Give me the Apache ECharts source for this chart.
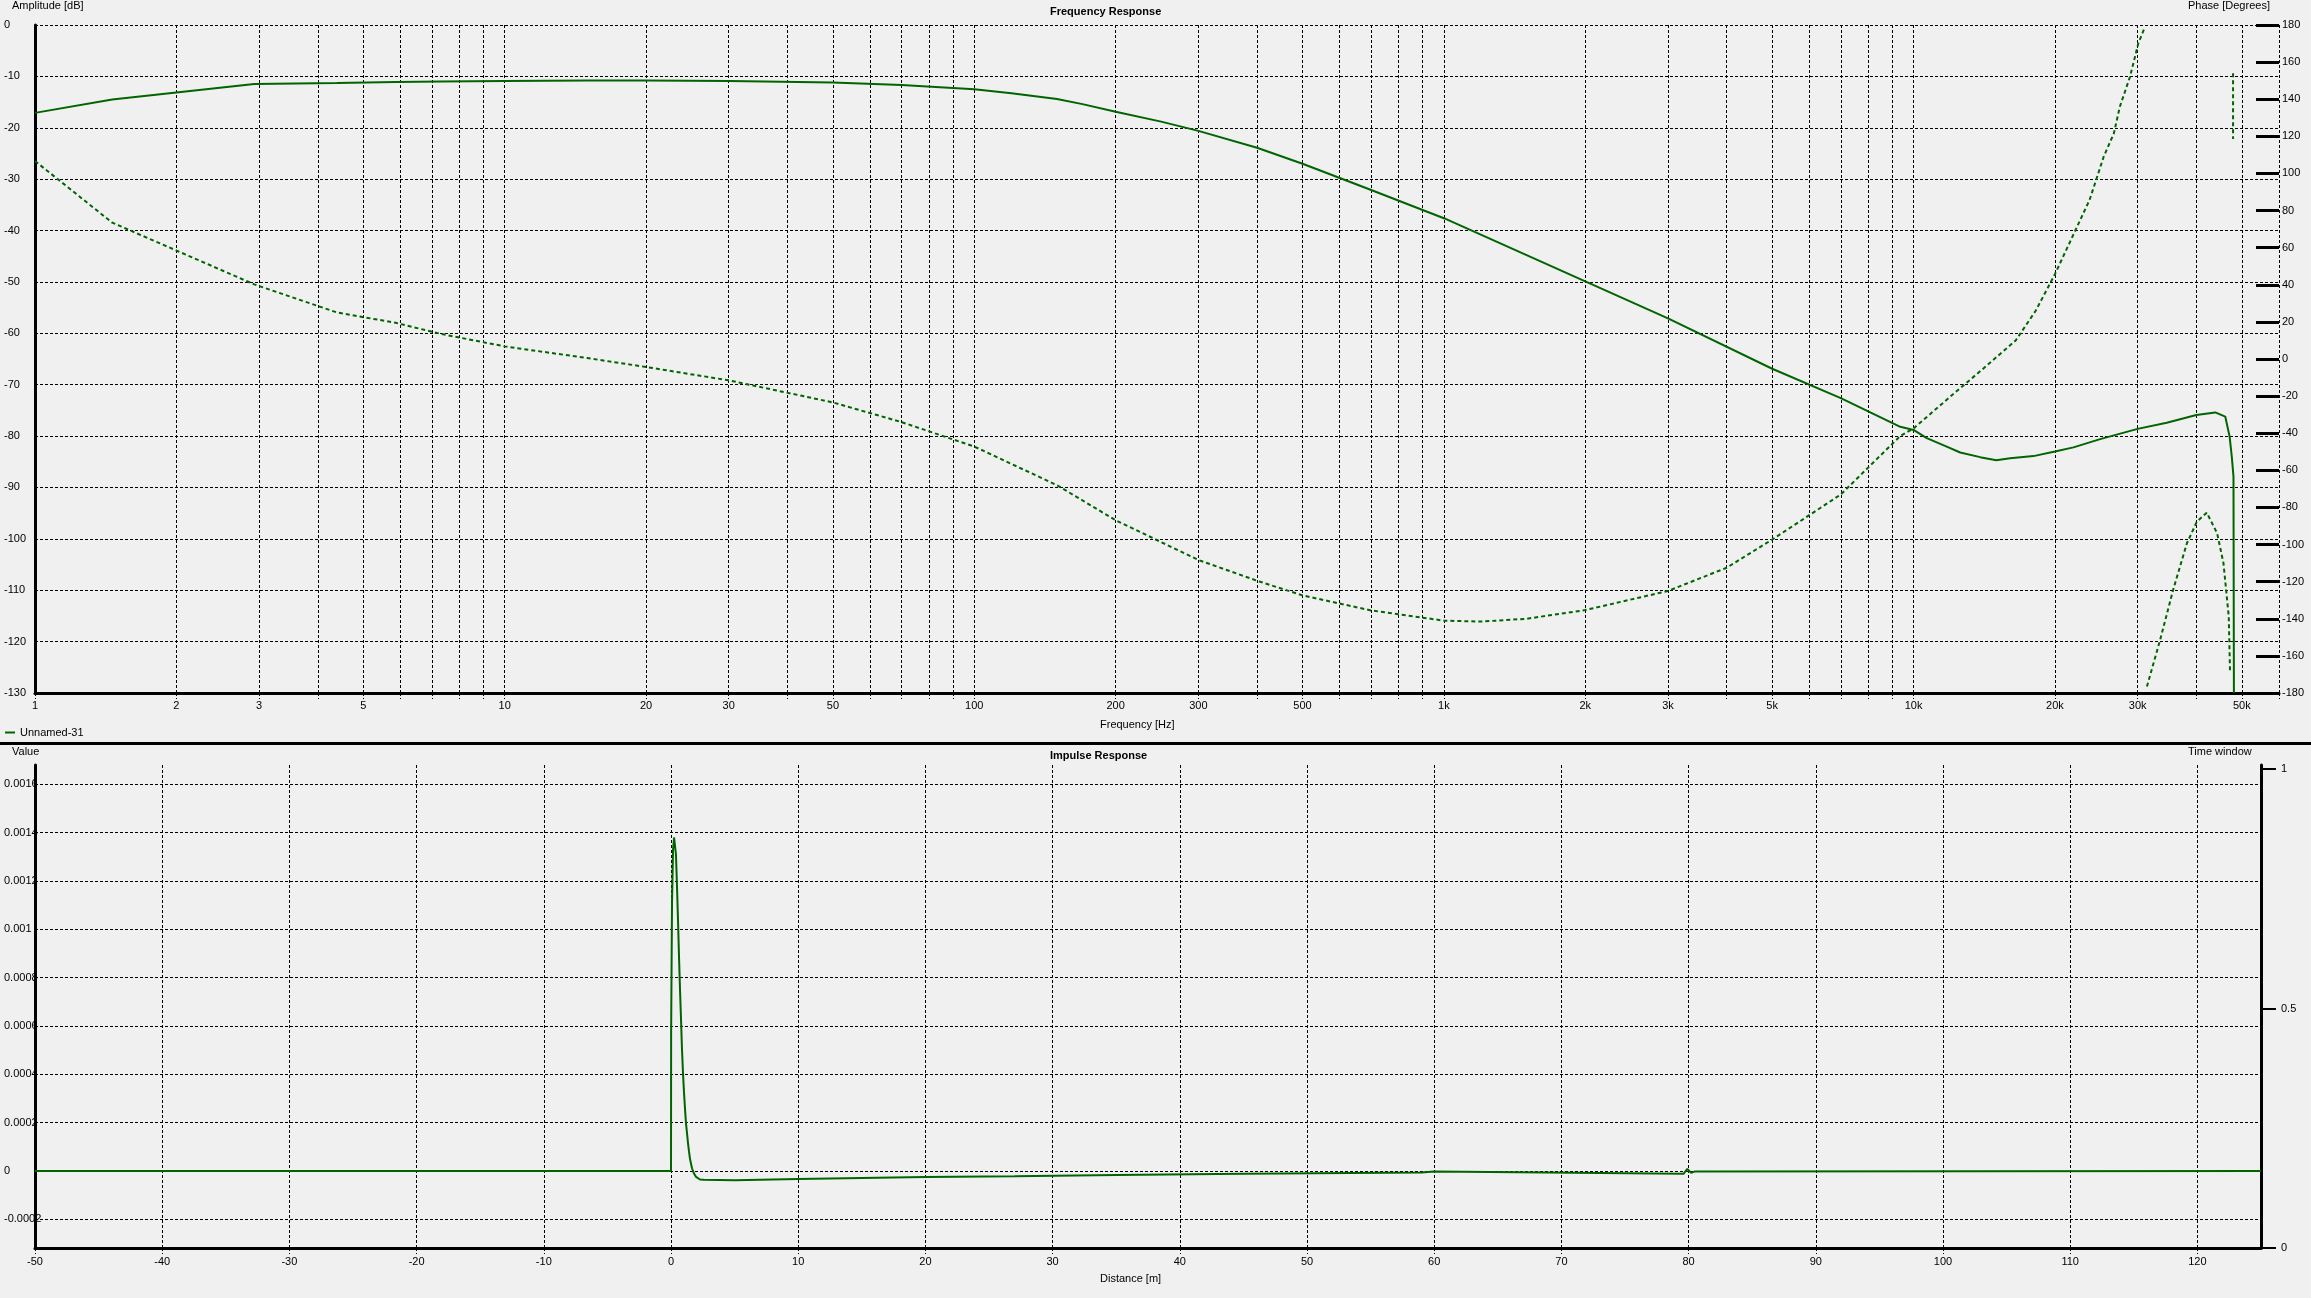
<!DOCTYPE html>
<html><head><meta charset="utf-8">
<script src="https://cdn.jsdelivr.net/npm/echarts@6/dist/echarts.min.js"></script>
<style>html,body{margin:0;padding:0;background:#f0f0f0;}#c{width:2311px;height:1298px;}</style>
</head><body><div id="c"></div>
<script>
// ---- tick values ----
const freqTicks = [1,2,3,4,5,6,7,8,9,10,20,30,40,50,60,70,80,90,100,200,300,400,500,600,700,800,900,
  1000,2000,3000,4000,5000,6000,7000,8000,9000,10000,20000,30000,40000,50000,60000];
const freqLabels = [1,2,3,5,10,20,30,50,100,200,300,500,1000,2000,3000,5000,10000,20000,30000,50000];
const irTicks = [-0.0002,0,0.0002,0.0004,0.0006,0.0008,0.001,0.0012,0.0014,0.0016];
const windowTicks = [0,0.5,1];

// ---- amplitude (dB) ----
const ampFreq = [1,1.46,2.93,4.39,5.86,7.32,10,15,20,30,50,70,100,120,150,170,200,250,300,400,500,700,1000,1500,2000,3000,5000,7000,
  9370,10000,10670,11800,12570,13860,15000,16060,18000,20000,21900,24970,30000,34600,40000,43900,46100,47100,47600,48000,48100];
const ampDb = [-17.1,-14.5,-11.5,-11.3,-11.1,-11.0,-10.9,-10.8,-10.8,-10.9,-11.2,-11.7,-12.5,-13.3,-14.4,-15.4,-16.9,-18.8,-20.6,-23.9,-27.0,-32.1,-37.6,-44.8,-49.9,-57.1,-66.9,-72.6,
  -78.2,-78.8,-80.4,-82.1,-83.2,-84.1,-84.7,-84.3,-83.9,-83.0,-82.2,-80.6,-78.6,-77.4,-75.9,-75.4,-76.2,-80.1,-84.0,-87.9,-130];

// ---- phase (degrees) ----
const phaseFreq = [1,1.46,2.93,4.39,5.86,7.32,10,15,20,30,50,70,100,150,200,300,400,500,700,1000,1200,1500,2000,3000,4000,5000,7000,9370,10000,12200,14100,16500,18200,20000,23700,24600,25400,26700,27500,28900,30100,31100];
const phaseDeg = [106.7,73.5,40.2,25.1,19.5,13.5,6.8,0.5,-4.3,-11.5,-23.4,-34,-47.2,-68,-86.9,-108.3,-119.5,-127.4,-135.5,-141,-141.5,-140,-135.3,-125,-112.5,-97.3,-73,-41.5,-37.4,-18.5,-5,10,26,45.7,85.7,98.2,109,121.6,136,152.1,170.1,179];
const phaseWrapFreq = [31400,33500,35700,38200,40100,42100,44300,45700,46900,47200];
const phaseWrapDeg = [-176.5,-151.4,-124.5,-99.3,-87.7,-82.8,-93.9,-110,-138.9,-169.4];
const phaseJumpFreq = [47900,47900];
const phaseJumpDeg = [154,118.6];

// ---- impulse response ----
const irDist = [-50,0,0.01,0.08,0.16,0.24,0.31,0.39,0.47,0.55,0.63,0.71,0.79,0.86,0.94,1.02,1.10,1.18,1.26,1.34,1.42,1.49,1.57,1.65,1.81,1.97,2.28,2.6,
  5,10,15,20,27,35,45,59,60,79.6,79.9,80.2,80.5,125];
const irValue = [0,0,0.000575,0.00111,0.00133,0.00138,0.00138,0.00131,0.00118,0.00104,0.000886,0.000748,0.000624,0.000508,0.000409,0.000327,0.000258,0.000196,0.000155,0.000113,0.0000787,0.000051,0.000031,0.000011,-0.000011,-0.000025,-0.0000356,-0.000037,
  -0.0000385,-0.000033,-0.000029,-0.000025,-0.000022,-0.000017,-0.000012,-0.000007,-0.000002,-0.000012,0.000008,-0.000008,-0.000002,0];

const zip = (a,b) => a.map((v,i)=>[v,b[i]]);
const FONT = '"Liberation Sans", Arial, sans-serif';
const GREEN = '#006400';
const dashGrid = {show:true, lineStyle:{color:'#000', width:1, type:[3,2]}};
const lbl = {color:'#000', fontSize:11, fontFamily:FONT};

const chart = echarts.init(document.getElementById('c'), null, {renderer:'canvas'});
chart.setOption({
  backgroundColor:'#f0f0f0',
  animation:false,
  textStyle:{fontFamily:FONT},
  legend:{left:5, top:725, data:['Unnamed-31'], icon:'rect', itemWidth:10, itemHeight:2, itemGap:5, padding:[2,0,2,0],
    textStyle:{color:'#000', fontSize:11, fontFamily:FONT}, selectedMode:false},
  grid:[
    {left:35, right:32, top:25, height:668},
    {left:35, right:50, top:765, height:483}
  ],
  xAxis:[
    {type:'log', gridIndex:0, min:1, max:60000, logBase:10,
      axisLine:{onZero:false, lineStyle:{color:'#000', width:3}},
      axisTick:{show:true, customValues:freqTicks, length:6, lineStyle:{color:'#000', width:1, type:[3,2]}},
      axisLabel:Object.assign({customValues:freqLabels, margin:7,
        formatter:v => v>=1000 ? (v/1000)+'k' : String(v)}, lbl),
      splitLine:dashGrid, minorTick:{show:false}},
    {type:'value', gridIndex:1, min:-50, max:125, interval:10,
      axisLine:{onZero:false, lineStyle:{color:'#000', width:3}},
      axisTick:{show:true, length:6, lineStyle:{color:'#000', width:1, type:[3,2]}},
      axisLabel:Object.assign({margin:8, showMaxLabel:false}, lbl),
      splitLine:dashGrid}
  ],
  yAxis:[
    {type:'value', gridIndex:0, min:-130, max:0, interval:10,
      axisLine:{show:true, onZero:false, lineStyle:{color:'#000', width:3}},
      axisTick:{show:false},
      axisLabel:Object.assign({align:'left', margin:31}, lbl),
      splitLine:dashGrid},
    {type:'value', gridIndex:0, min:-180, max:180, interval:20, position:'right',
      axisLine:{show:false, onZero:false},
      axisTick:{show:true, inside:true, length:23, lineStyle:{color:'#000', width:3}},
      axisLabel:Object.assign({align:'left', margin:3}, lbl),
      splitLine:{show:false}},
    {type:'value', gridIndex:1, min:-0.000319, max:0.00168,
      axisLine:{show:true, onZero:false, lineStyle:{color:'#000', width:3}},
      axisTick:{show:false, customValues:irTicks},
      axisLabel:Object.assign({align:'left', margin:31, customValues:irTicks, formatter:v=>String(v)}, lbl),
      splitLine:dashGrid},
    {type:'value', gridIndex:1, min:0, max:1.0085, position:'right',
      axisLine:{show:true, onZero:false, lineStyle:{color:'#000', width:3}},
      axisTick:{show:true, customValues:windowTicks, length:15, lineStyle:{color:'#000', width:2}},
      axisLabel:Object.assign({align:'left', margin:20, customValues:windowTicks}, lbl),
      splitLine:{show:false}}
  ],
  series:[
    {name:'Unnamed-31', type:'line', xAxisIndex:0, yAxisIndex:0, data:zip(ampFreq, ampDb), showSymbol:false, symbol:'none',
      lineStyle:{color:GREEN, width:2}, itemStyle:{color:GREEN}, clip:true},
    {name:'Unnamed-31', type:'line', xAxisIndex:0, yAxisIndex:1, data:zip(phaseFreq, phaseDeg), symbol:'none',
      lineStyle:{color:GREEN, width:2, type:[4,3]}, itemStyle:{color:GREEN}, clip:true},
    {name:'Unnamed-31', type:'line', xAxisIndex:0, yAxisIndex:1, data:zip(phaseWrapFreq, phaseWrapDeg), symbol:'none',
      lineStyle:{color:GREEN, width:2, type:[4,3]}, itemStyle:{color:GREEN}, clip:true},
    {name:'Unnamed-31', type:'line', xAxisIndex:0, yAxisIndex:1, data:zip(phaseJumpFreq, phaseJumpDeg), symbol:'none',
      lineStyle:{color:GREEN, width:2, type:[4,3]}, itemStyle:{color:GREEN}, clip:true},
    {name:'Impulse', type:'line', xAxisIndex:1, yAxisIndex:2, data:zip(irDist, irValue), symbol:'none',
      lineStyle:{color:GREEN, width:2}, itemStyle:{color:GREEN}, clip:true}
  ],
  graphic:[
    {type:'rect', shape:{x:0, y:742, width:2311, height:3}, style:{fill:'#000'}},
    {type:'text', left:12, top:0, style:{text:'Amplitude [dB]', font:'11px '+FONT, fill:'#000'}},
    {type:'text', left:1050, top:6, style:{text:'Frequency Response', font:'bold 11px '+FONT, fill:'#000'}},
    {type:'text', left:2188, top:0, style:{text:'Phase [Degrees]', font:'11px '+FONT, fill:'#000'}},
    {type:'text', left:1100, top:719, style:{text:'Frequency [Hz]', font:'11px '+FONT, fill:'#000'}},
    {type:'text', left:12, top:746, style:{text:'Value', font:'11px '+FONT, fill:'#000'}},
    {type:'text', left:1050, top:750, style:{text:'Impulse Response', font:'bold 11px '+FONT, fill:'#000'}},
    {type:'text', left:2188, top:746, style:{text:'Time window', font:'11px '+FONT, fill:'#000'}},
    {type:'text', left:1100, top:1273, style:{text:'Distance [m]', font:'11px '+FONT, fill:'#000'}}
  ]
});
</script></body></html>
